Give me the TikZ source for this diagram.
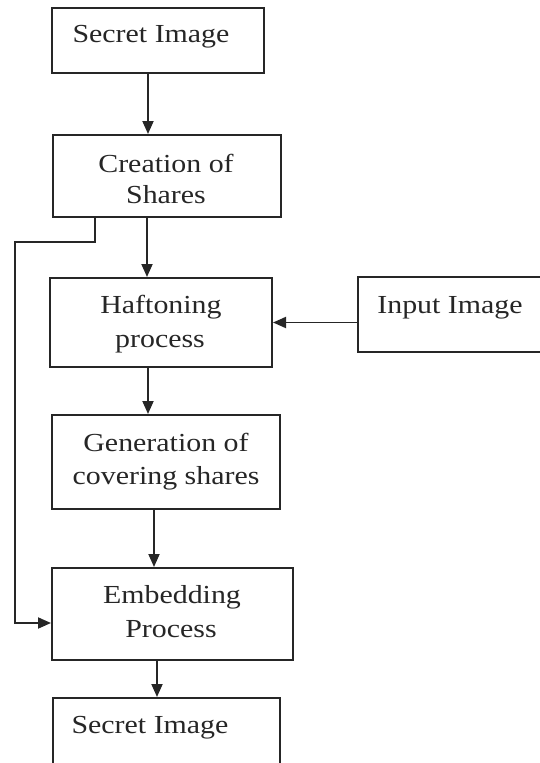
\documentclass[tikz,border=0pt]{standalone}
\usepackage{fontspec}
\setmainfont[FakeStretch=1.15]{Liberation Serif}
\usetikzlibrary{arrows.meta}
\begin{document}
\begin{tikzpicture}[x=1pt,y=-1pt,
  box/.style={draw=black!85, line width=2pt, rectangle, inner sep=0pt, anchor=north west},
  lbl/.style={inner sep=0pt, anchor=base, text=black!85, font=\fontsize{26pt}{30pt}\selectfont},
  arr/.style={draw=black!85, line width=1.9pt, -{Triangle[length=13pt,width=11pt]}}]
\useasboundingbox (0,0) rectangle (540,763);
% boxes
\node[box, minimum width=212pt, minimum height=65pt] (b1) at (51,7) {};
\node[box, minimum width=228pt, minimum height=82pt] (b2) at (52,134) {};
\node[box, minimum width=222pt, minimum height=89pt] (b3) at (49,277) {};
\node[box, minimum width=200pt, minimum height=75pt] (inp) at (357,276) {};
\node[box, minimum width=228pt, minimum height=94pt] (b4) at (51,414) {};
\node[box, minimum width=241pt, minimum height=92pt] (b5) at (51,567) {};
\node[box, minimum width=227pt, minimum height=90pt] (b6) at (52,697) {};
% labels
\node[lbl] (t1) at (151,42) {Secret Image};
\node[lbl] (t2a) at (166,172) {Creation of};
\node[lbl] (t2b) at (166,203) {Shares};
\node[lbl] (t3a) at (161,313) {Haftoning};
\node[lbl] (t3b) at (160,347) {process};
\node[lbl] (ti) at (450,313) {Input Image};
\node[lbl] (t4a) at (166,451) {Generation of};
\node[lbl] (t4b) at (166,484) {covering shares};
\node[lbl] (t5a) at (172,603) {Embedding};
\node[lbl] (t5b) at (171,637) {Process};
\node[lbl] (t6) at (150,733) {Secret Image};
% helper coordinates
\coordinate (x1) at (148,0);
\coordinate (x3) at (147,0);
\coordinate (x5) at (148,0);
\coordinate (x6) at (154,0);
\coordinate (x7) at (157,0);
\coordinate (bx) at (95,0);
\coordinate (c1) at (15,242);
\coordinate (ey) at (0,623);
% connectors
\draw[arr] (b1.south -| x1) -- (b2.north -| x1);
\draw[arr] (b2.south -| x3) -- (b3.north -| x3);
\draw[arr] (inp.west |- b3.east) -- (b3.east);
\draw[arr] (b3.south -| x5) -- (b4.north -| x5);
\draw[arr] (b4.south -| x6) -- (b5.north -| x6);
\draw[arr] (b5.south -| x7) -- (b6.north -| x7);
\draw[arr] (b2.south -| bx) |- (c1) |- (b5.west |- ey);
\end{tikzpicture}
\end{document}
